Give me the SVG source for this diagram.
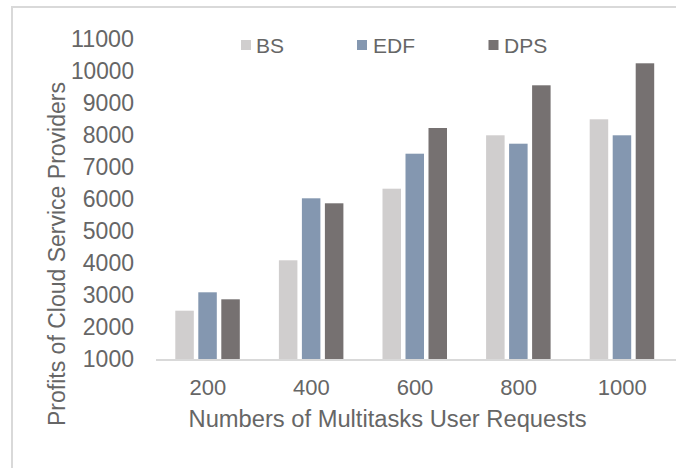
<svg xmlns="http://www.w3.org/2000/svg" width="676" height="468" viewBox="0 0 676 468">
  <style>
    text { font-family: "Liberation Sans", Arial, sans-serif; fill: #666666; }
    .ytick { font-size: 23px; text-anchor: end; }
    .xtick { font-size: 22px; text-anchor: middle; }
    .legend { font-size: 21px; }
    .title { font-size: 23px; text-anchor: middle; }
    .bs { fill: #D0CECE; }
    .edf { fill: #8497B0; }
    .dps { fill: #767171; }
  </style>

  <rect width="676" height="468" fill="#FFFFFF"/>
  <!-- chart frame -->
  <rect x="12" y="7" width="700" height="500" fill="none" stroke="#D9D9D9" stroke-width="2"/>

  <!-- value axis labels -->
  <g id="y-axis">
    <text class="ytick" x="134" y="46.7" textLength="63" lengthAdjust="spacingAndGlyphs">11000</text>
    <text class="ytick" x="134" y="78.7" textLength="63" lengthAdjust="spacingAndGlyphs">10000</text>
    <text class="ytick" x="134" y="110.7">9000</text>
    <text class="ytick" x="134" y="142.7">8000</text>
    <text class="ytick" x="134" y="174.7">7000</text>
    <text class="ytick" x="134" y="206.7">6000</text>
    <text class="ytick" x="134" y="238.7">5000</text>
    <text class="ytick" x="134" y="270.7">4000</text>
    <text class="ytick" x="134" y="302.7">3000</text>
    <text class="ytick" x="134" y="334.7">2000</text>
    <text class="ytick" x="134" y="366.7">1000</text>
    <text class="title" transform="translate(65,254) rotate(-90)" textLength="344" lengthAdjust="spacingAndGlyphs">Profits of Cloud Service Providers</text>
  </g>

  <!-- legend -->
  <g id="legend">
    <rect class="bs" x="241" y="40" width="10" height="10"/>
    <text class="legend" x="256" y="53.3">BS</text>
    <rect class="edf" x="357" y="40" width="10" height="10"/>
    <text class="legend" x="373" y="53.3">EDF</text>
    <rect class="dps" x="488.5" y="40" width="10" height="10"/>
    <text class="legend" x="504" y="53.3">DPS</text>
  </g>

  <!-- bars, one group per category -->
  <g id="cat-200">
    <rect class="bs" x="175.3" y="310.7" width="18.5" height="48.8"/>
    <rect class="edf" x="198.3" y="292.3" width="18.5" height="67.2"/>
    <rect class="dps" x="221.3" y="299.3" width="18.5" height="60.2"/>
    <text class="xtick" x="207.8" y="394.5">200</text>
  </g>
  <g id="cat-400">
    <rect class="bs" x="278.9" y="260.3" width="18.5" height="99.2"/>
    <rect class="edf" x="301.9" y="198.3" width="18.5" height="161.2"/>
    <rect class="dps" x="324.9" y="203.3" width="18.5" height="156.2"/>
    <text class="xtick" x="311.4" y="394.5">400</text>
  </g>
  <g id="cat-600">
    <rect class="bs" x="382.5" y="188.7" width="18.5" height="170.8"/>
    <rect class="edf" x="405.5" y="153.7" width="18.5" height="205.8"/>
    <rect class="dps" x="428.5" y="128" width="18.5" height="231.5"/>
    <text class="xtick" x="415" y="394.5">600</text>
  </g>
  <g id="cat-800">
    <rect class="bs" x="486.1" y="135.3" width="18.5" height="224.2"/>
    <rect class="edf" x="509.1" y="143.7" width="18.5" height="215.8"/>
    <rect class="dps" x="532.1" y="85.3" width="18.5" height="274.2"/>
    <text class="xtick" x="518.6" y="394.5">800</text>
  </g>
  <g id="cat-1000">
    <rect class="bs" x="589.7" y="119.3" width="18.5" height="240.2"/>
    <rect class="edf" x="612.7" y="135.3" width="18.5" height="224.2"/>
    <rect class="dps" x="635.7" y="63.3" width="18.5" height="296.2"/>
    <text class="xtick" x="622.2" y="394.5">1000</text>
  </g>

  <!-- category axis -->
  <g id="x-axis">
    <line x1="156" y1="360" x2="676" y2="360" stroke="#D9D9D9" stroke-width="2"/>
    <text class="title" x="387.5" y="426.5" textLength="398" lengthAdjust="spacingAndGlyphs">Numbers of Multitasks User Requests</text>
  </g>
</svg>
